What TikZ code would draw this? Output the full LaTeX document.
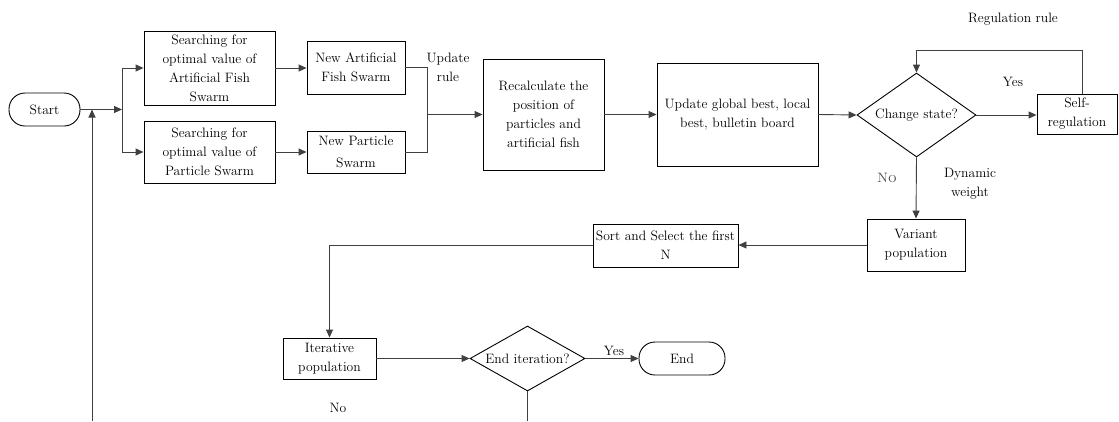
\documentclass[tikz,border=0pt]{standalone}
\usetikzlibrary{shapes.geometric,arrows.meta,calc}
\begin{document}
\begin{tikzpicture}[x=1pt,y=-1pt,
  every node/.style={font=\rmfamily\fontsize{13.6}{19}\selectfont, text=black},
  box/.style={draw=black, line width=0.9pt, align=center, inner sep=1pt, rectangle},
  term/.style={draw=black, line width=0.9pt, rectangle, rounded corners=16pt, inner sep=1pt},
  dia/.style={draw=black, line width=0.9pt, diamond, inner sep=0pt, align=center},
  lbl/.style={align=center, inner sep=0pt},
  conn/.style={draw=black!75, line width=0.9pt},
  arr/.style={conn, -{Triangle[length=8pt,width=7pt]}}]
\useasboundingbox (0,0) rectangle (1119,421);
% nodes
\node[term, minimum width=71, minimum height=33] (start) at (44.5,109.5) {Start};
\node[box, minimum width=131, minimum height=74] (A1) at (209.5,68) {Searching for\\optimal value of\\Artificial Fish\\Swarm};
\node[box, minimum width=131, minimum height=62] (A2) at (209.5,152) {Searching for\\optimal value of\\Particle Swarm};
\node[box, minimum width=98, minimum height=53] (B1) at (356,67.5) {New Artificial\\Fish Swarm};
\node[box, minimum width=98, minimum height=42, font=\rmfamily\fontsize{13.6}{22}\selectfont] (B2) at (356,152) {New Particle\\Swarm};
\node[box, minimum width=121, minimum height=111] (C) at (543.5,114.5) {Recalculate the\\position of\\particles and\\artificial fish};
\node[box, minimum width=161, minimum height=103] (D) at (737.5,114.5) {Update global best, local\\best, bulletin board};
\node[dia, minimum width=119, minimum height=84, aspect=1.42] (E) at (916.5,115) {Change state?};
\node[box, minimum width=80, minimum height=40] (F) at (1077,114) {Self-\\regulation};
\node[box, minimum width=98, minimum height=52] (G) at (916,245) {Variant\\population};
\node[box, minimum width=145, minimum height=43] (H) at (665.5,245.5) {Sort and Select the first\\N};
\node[box, minimum width=93, minimum height=41] (I) at (329.5,358.5) {Iterative\\population};
\node[dia, minimum width=115, minimum height=65, aspect=1.77] (J) at (527.5,358.5) {End iteration?};
\node[term, minimum width=86, minimum height=33] (End) at (682,358.5) {End};
% labels
\node[lbl] (lupd) at (448,67.5) {Update\\rule};
\node[lbl] (lreg) at (1013,19) {Regulation rule};
\node[lbl] (lyes1) at (1013,82) {Yes};
\node[lbl, text=black!70] (lno1) at (887,178) {\textsc{No}};
\node[lbl] (ldyn) at (970,183.5) {Dynamic\\weight};
\node[lbl] (lyes2) at (614,351) {Yes};
\node[lbl] (lno2) at (338,408) {No};
% coordinates
\coordinate (j1) at (122,109.5);
\coordinate (j2) at (427,114.5);
\coordinate (lb) at (92,421);
\coordinate (lt) at (92,109.5);
\coordinate (jb) at (527.5,421);
% connectors
\draw[arr] (start.east) -- (j1);
\draw[arr] (j1) |- (A1.west);
\draw[arr] (j1) |- (A2.west);
\draw[arr] (lb) -- (lt);
\draw[arr] (A1.east) -- (A1.east -| B1.west);
\draw[arr] (A2.east) -- (B2.west);
\draw[conn] (B1.east) -| (j2);
\draw[conn] (B2.east) -| (j2);
\draw[arr] (j2) -- (C.west);
\draw[arr] (C.east) -- (D.west);
\draw[arr] (D.east) -- (E.west);
\draw[arr] (E.east) -- (E.east -| F.west);
\draw[arr] ([xshift=5pt]F.north) |- ($(E.north)+(0,-22)$) -- (E.north);
\draw[arr] (E.south) -- (G.north);
\draw[arr] (G.west) -- (G.west -| H.east);
\draw[arr] (H.west) -| (I.north);
\draw[arr] (I.east) -- (J.west);
\draw[arr] (J.east) -- (End.west);
\draw[conn] (J.south) -- (jb);
\end{tikzpicture}
\end{document}
